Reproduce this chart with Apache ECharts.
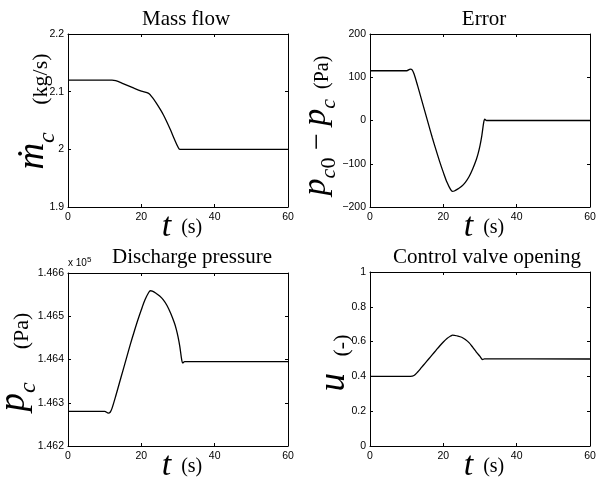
<!DOCTYPE html>
<html>
<head>
<meta charset="utf-8">
<script src="https://cdn.jsdelivr.net/npm/echarts@6/dist/echarts.min.js"></script>
<style>html,body{margin:0;padding:0;background:#fff}#c{width:600px;height:477px}</style>
</head>
<body>
<div id="c"></div>
<script>
// ---- data ----
const titles = ['Mass flow', 'Error', 'Discharge pressure', 'Control valve opening'];
const xTicks = [0, 20, 40, 60];

const tMass = [0, 12, 13, 15, 18, 20, 22, 23, 24, 25, 26, 27, 28, 29, 30, 30.5, 60];
const mMass = [2.12, 2.12, 2.119, 2.114, 2.106, 2.101, 2.097, 2.09, 2.081, 2.071, 2.06, 2.047, 2.033, 2.018, 2.004, 2.0, 2.0];

const tErr = [0, 10, 11, 11.5, 12, 13, 14, 15, 16, 17, 18, 19, 20, 21, 22, 22.5, 23, 24, 25, 26, 27, 28, 29, 29.5, 30, 30.5, 31, 31.3, 31.8, 60];
const vErr = [115, 115, 119, 117, 108, 80, 50, 20, -10, -40, -68, -95, -120, -143, -160, -164, -163, -158, -152, -143, -130, -112, -90, -76, -58, -35, -5, 3, 0, 0];

const tPres = [0, 10, 11, 11.5, 12, 13, 14, 15, 16, 17, 18, 19, 20, 21, 22, 22.5, 23, 24, 25, 26, 27, 28, 29, 29.5, 30, 30.5, 31, 31.3, 31.8, 60];
const vPres = [146280, 146280, 146276, 146278, 146287, 146315, 146345, 146375, 146405, 146435, 146463, 146490, 146515, 146538, 146555, 146559, 146558, 146553, 146547, 146538, 146525, 146507, 146485, 146471, 146453, 146430, 146400, 146392, 146395, 146395];

const tValve = [0, 11, 12, 13, 14, 15, 16, 17, 18, 19, 20, 21, 22, 22.5, 23, 24, 25, 26, 27, 28, 29, 30, 30.7, 31.2, 60];
const vValve = [0.4, 0.4, 0.405, 0.425, 0.45, 0.475, 0.5, 0.525, 0.55, 0.575, 0.598, 0.618, 0.632, 0.637, 0.636, 0.632, 0.625, 0.612, 0.594, 0.568, 0.54, 0.515, 0.497, 0.501, 0.5];

const yMin = [1.9, -200, 146200, 0];
const yMax = [2.2, 200, 146600, 1];
const yStep = [0.1, 100, 100, 0.2];

// ---- chart ----
const serif = 'Liberation Serif';
const sans = 'Liberation Sans';
const grids = [
  {left: 68, top: 34, width: 220, height: 173, outerBoundsMode: 'none', containLabel: false},
  {left: 370, top: 34, width: 220, height: 173, outerBoundsMode: 'none', containLabel: false},
  {left: 68, top: 273, width: 220, height: 173, outerBoundsMode: 'none', containLabel: false},
  {left: 370, top: 272, width: 220, height: 174, outerBoundsMode: 'none', containLabel: false}
];
function makeRich(k, uPad) {
  const r = v => Math.round(v * k);
  return {
    mi: {fontFamily: serif, fontStyle: 'italic', fontSize: r(34), padding: [0, 0, r(7), 0], verticalAlign: 'bottom', color: '#000'},
    sub: {fontFamily: serif, fontStyle: 'italic', fontSize: r(22), verticalAlign: 'bottom', color: '#000'},
    subr: {fontFamily: serif, fontSize: r(22), verticalAlign: 'bottom', color: '#000'},
    op: {fontFamily: serif, fontSize: r(30), padding: [0, 0, r(7), 0], verticalAlign: 'bottom', color: '#000'},
    u: {fontFamily: serif, fontSize: r(20), padding: [0, 0, r(uPad), 0], verticalAlign: 'bottom', color: '#000'}
  };
}
const yNames = [
  '{mi|ṁ}{sub|c}{u|     (kg/s)}',
  '{mi|p}{sub|c}{subr|0}{op| − }{mi|p}{sub|c}{u|  (Pa)}',
  '{mi|p}{sub|c}{u|      (Pa)}',
  '{mi|u}{u|   (-)}'
];
const yScale = [1.1, 1, 1.08, 1.1];
const yNameGap = [8, 30, 27, 9];
const yNamePad = [[0, 0, 0, 18], [0, 10, 0, 0], [0, 5, 0, 0], [0, 8, 0, 0]];
const titleX = [181, 479, 187, 482];
const titleY = [4, 4, 242, 242];

const xAxes = [], yAxes = [], series = [], titleArr = [];
const datasets = [[tMass, mMass], [tErr, vErr], [tPres, vPres], [tValve, vValve]];
const lineCol = '#000';
for (let i = 0; i < 4; i++) {
  const tickIn = {show: true, inside: true, length: 3, lineStyle: {color: lineCol}};
  const axLine = {show: true, onZero: false, lineStyle: {color: lineCol, width: 1}};
  xAxes.push({
    type: 'value', gridIndex: i, min: xTicks[0], max: xTicks[xTicks.length - 1], interval: 20,
    axisLine: axLine, axisTick: tickIn, splitLine: {show: false},
    axisLabel: {fontFamily: sans, fontSize: 10.5, color: '#000', margin: 5},
    name: '{mi|t}{u|  (s)}', nameLocation: 'middle', nameGap: 3, nameMoveOverlap: false,
    nameTextStyle: {rich: makeRich(1, 13), padding: [0, 0, 0, 8]}
  });
  xAxes.push({
    type: 'value', gridIndex: i, position: 'top', min: xTicks[0], max: xTicks[xTicks.length - 1], interval: 20,
    axisLine: axLine, axisTick: tickIn, splitLine: {show: false}, axisLabel: {show: false}
  });
  const fmt = i === 2 ? (v => (v / 1e5).toFixed(3)) : (v => String(+v.toFixed(3)).replace('-', '\u2212'));
  yAxes.push({
    type: 'value', gridIndex: i, min: yMin[i], max: yMax[i], interval: yStep[i],
    axisLine: axLine, axisTick: tickIn, splitLine: {show: false},
    axisLabel: {fontFamily: sans, fontSize: 10.5, color: '#000', margin: 4, formatter: fmt},
    name: yNames[i], nameLocation: 'middle', nameRotate: 90, nameGap: yNameGap[i], nameMoveOverlap: false,
    nameTextStyle: {rich: makeRich(yScale[i], 7), padding: yNamePad[i]}
  });
  yAxes.push({
    type: 'value', gridIndex: i, position: 'right', min: yMin[i], max: yMax[i], interval: yStep[i],
    axisLine: axLine, axisTick: tickIn, splitLine: {show: false}, axisLabel: {show: false}
  });
  const [tx, ty] = datasets[i];
  series.push({
    type: 'line', xAxisIndex: 2 * i, yAxisIndex: 2 * i,
    data: tx.map((t, k) => [t, ty[k]]),
    showSymbol: false, smooth: 0.3, lineStyle: {color: lineCol, width: 1.3}, z: 3
  });
  titleArr.push({
    text: titles[i], left: titleX[i], top: titleY[i], textAlign: 'center',
    textStyle: {fontFamily: serif, fontSize: 21, fontWeight: 'normal', color: '#000'}
  });
}

const chart = echarts.init(document.getElementById('c'), null, {renderer: 'canvas'});
chart.setOption({
  animation: false,
  backgroundColor: '#fff',
  title: titleArr,
  grid: grids,
  xAxis: xAxes,
  yAxis: yAxes,
  series: series,
  graphic: [{
    type: 'text', left: 68, top: 256,
    style: {
      text: 'x 10{sup|5}',
      fontFamily: sans, fontSize: 10, fill: '#000',
      rich: {sup: {fontFamily: sans, fontSize: 8, verticalAlign: 'top', padding: [0, 0, 6, 0]}}
    }
  }]
});
</script>
</body>
</html>
